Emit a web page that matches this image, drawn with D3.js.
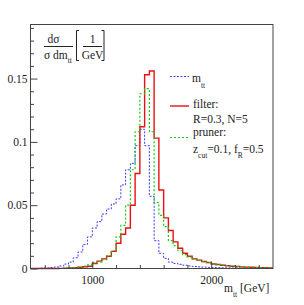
<!DOCTYPE html>
<html>
<head>
<meta charset="utf-8">
<script src="https://cdn.jsdelivr.net/npm/d3@7.9.0/dist/d3.min.js"></script>
<style>
  body { margin: 0; background: #fff; }
  svg { display: block; font-family: "Liberation Serif", "DejaVu Serif", serif; }
</style>
</head>
<body>
<svg id="chart"></svg>
<script>
// bin edges of the histograms (GeV), 40 GeV wide
const binEdges = d3.range(480, 2521, 40);

// normalised distributions, one value per bin
const mtt = [0, 0.0001, 0.0003, 0.0005, 0.0008, 0.0012, 0.002, 0.0035, 0.005, 0.0085,
  0.013, 0.019, 0.025, 0.032, 0.037, 0.043, 0.047, 0.051, 0.055, 0.066,
  0.078, 0.083, 0.097, 0.110, 0.097, 0.057, 0.022, 0.012, 0.008, 0.005,
  0.004, 0.0033, 0.0026, 0.002, 0.0016, 0.0013, 0.0011, 0.0009, 0.0008, 0.0007,
  0.0006, 0.0005, 0.0004, 0.0004, 0.0003, 0.0003, 0.0002, 0.0002, 0.0002, 0.0001, 0.0001];

const filter = [0, 0, 0, 0, 0, 0, 0.0001, 0.0002, 0.0004, 0.0007,
  0.001, 0.0014, 0.0018, 0.004, 0.0058, 0.0076, 0.0097, 0.0135, 0.020, 0.027,
  0.032, 0.050, 0.075, 0.112, 0.153, 0.156, 0.103, 0.062, 0.040, 0.030,
  0.021, 0.016, 0.012, 0.0097, 0.0076, 0.0066, 0.0055, 0.0047, 0.0036, 0.0032,
  0.0026, 0.0022, 0.0018, 0.0016, 0.0013, 0.0011, 0.001, 0.0008, 0.0007, 0.0006, 0.0005];

const pruner = [0, 0, 0, 0, 0, 0, 0.0001, 0.0003, 0.0005, 0.0008,
  0.0012, 0.0018, 0.0028, 0.0045, 0.0052, 0.007, 0.010, 0.014, 0.025, 0.034,
  0.050, 0.078, 0.108, 0.138, 0.142, 0.108, 0.052, 0.042, 0.033, 0.022,
  0.018, 0.014, 0.011, 0.009, 0.0075, 0.0065, 0.0055, 0.0046, 0.0037, 0.0031,
  0.0026, 0.0022, 0.0019, 0.0016, 0.0013, 0.0011, 0.001, 0.0008, 0.0007, 0.0006, 0.0005];

const xTicks = [1000, 2000];
const yTicks = [0, 0.05, 0.1, 0.15];

const width = 304;
const height = 305;
const marginTop = 24.5;
const marginRight = 31;
const marginBottom = 36.5;
const marginLeft = 30.5;

const x = d3.scaleLinear()
  .domain([480, 2520])
  .range([marginLeft, width - marginRight]);

const y = d3.scaleLinear()
  .domain([0, 0.1927])
  .range([height - marginBottom, marginTop]);

const svg = d3.select('#chart')
  .attr('width', width)
  .attr('height', height)
  .attr('viewBox', [0, 0, width, height]);

svg.append('rect').attr('width', width).attr('height', height).attr('fill', '#fff');

const frameColor = '#444';
const textColor = '#222';

// histograms as step outlines
function stepLine(values) {
  const pts = values.map((v, i) => [binEdges[i], v]);
  pts.push([binEdges[values.length], values[values.length - 1]]);
  return d3.line()
    .x(d => x(d[0]))
    .y(d => y(d[1]))
    .curve(d3.curveStepAfter)(pts);
}

const plot = svg.append('g');

plot.append('path')
  .attr('d', stepLine(mtt))
  .attr('fill', 'none')
  .attr('stroke', '#3b3bff')
  .attr('stroke-width', 1)
  .attr('stroke-dasharray', '2,1.5');

plot.append('path')
  .attr('d', stepLine(filter))
  .attr('fill', 'none')
  .attr('stroke', '#e81010')
  .attr('stroke-width', 1.4);

plot.append('path')
  .attr('d', stepLine(pruner))
  .attr('fill', 'none')
  .attr('stroke', '#11cc11')
  .attr('stroke-width', 1.2)
  .attr('stroke-dasharray', '2,2');

// frame
svg.append('rect')
  .attr('x', marginLeft)
  .attr('y', marginTop)
  .attr('width', width - marginRight - marginLeft)
  .attr('height', height - marginBottom - marginTop)
  .attr('fill', 'none')
  .attr('stroke', frameColor)
  .attr('stroke-width', 1);

// axes, ticks pointing inward
const xAxis = svg.append('g')
  .attr('transform', `translate(0,${height - marginBottom})`)
  .call(d3.axisBottom(x).tickValues(xTicks).tickSize(-7).tickPadding(5).tickFormat(d3.format('d')));
svg.append('g')
  .attr('transform', `translate(0,${height - marginBottom})`)
  .call(d3.axisBottom(x).tickValues(d3.range(600, 2500, 200).filter(v => !xTicks.includes(v))).tickSize(-3.5).tickFormat(''));

const yAxis = svg.append('g')
  .attr('transform', `translate(${marginLeft},0)`)
  .call(d3.axisLeft(y).tickValues(yTicks).tickSize(-7).tickPadding(3).tickFormat(d => String(d)));
svg.append('g')
  .attr('transform', `translate(${marginLeft},0)`)
  .call(d3.axisLeft(y).tickValues(d3.range(1, 20).map(v => v / 100).filter(v => Math.round(v * 100) % 5 !== 0)).tickSize(-3.5).tickFormat(''));

svg.selectAll('.domain').remove();
svg.selectAll('.tick line').attr('stroke', frameColor);
svg.selectAll('.tick text')
  .attr('fill', textColor)
  .attr('font-family', '"Liberation Serif", serif')
  .attr('font-size', 11.5);
xAxis.selectAll('.tick text').attr('dy', '0.9em');

// x axis title
const xTitle = svg.append('text')
  .attr('x', 224)
  .attr('y', 292)
  .attr('fill', textColor)
  .attr('font-size', 11.5);
xTitle.append('tspan').text('m');
xTitle.append('tspan').attr('font-size', 7.5).attr('dy', 5).text('tt');
xTitle.append('tspan').attr('dy', -5).text(' [GeV]');

// y axis title: dσ / (σ dm_tt) [1/GeV]
const yTitle = svg.append('g').attr('fill', textColor).attr('font-size', 11.5);
yTitle.append('text').attr('x', 53.5).attr('y', 43).attr('text-anchor', 'middle').text('dσ');
yTitle.append('line').attr('x1', 44).attr('x2', 73).attr('y1', 46.5).attr('y2', 46.5)
  .attr('stroke', textColor).attr('stroke-width', 1);
const den = yTitle.append('text').attr('x', 44).attr('y', 59);
den.append('tspan').text('σ dm');
den.append('tspan').attr('font-size', 7.5).attr('dy', 4).text('tt');
yTitle.append('path').attr('d', 'M79,30.5H76.5V60.5H79').attr('fill', 'none').attr('stroke', textColor);
yTitle.append('path').attr('d', 'M101.5,30.5H104V60.5H101.5').attr('fill', 'none').attr('stroke', textColor);
yTitle.append('text').attr('x', 92.5).attr('y', 43).attr('text-anchor', 'middle').text('1');
yTitle.append('line').attr('x1', 83).attr('x2', 102).attr('y1', 46.5).attr('y2', 46.5)
  .attr('stroke', textColor).attr('stroke-width', 1);
yTitle.append('text').attr('x', 92.5).attr('y', 59).attr('text-anchor', 'middle').text('GeV');

// legend
const legend = svg.append('g').attr('fill', textColor).attr('font-size', 11.5);
legend.append('line').attr('x1', 170).attr('x2', 189).attr('y1', 76.5).attr('y2', 76.5)
  .attr('stroke', '#3b3bff').attr('stroke-dasharray', '2,1.5');
const l1 = legend.append('text').attr('x', 192).attr('y', 82);
l1.append('tspan').text('m');
l1.append('tspan').attr('font-size', 7.5).attr('dy', 6).text('tt');

legend.append('line').attr('x1', 170).attr('x2', 189).attr('y1', 106).attr('y2', 106)
  .attr('stroke', '#e81010').attr('stroke-width', 1.4);
legend.append('text').attr('x', 193).attr('y', 108).text('filter:');
legend.append('text').attr('x', 193).attr('y', 122.5).text('R=0.3, N=5');

legend.append('line').attr('x1', 170).attr('x2', 189).attr('y1', 137.5).attr('y2', 137.5)
  .attr('stroke', '#11cc11').attr('stroke-width', 1.2).attr('stroke-dasharray', '2,2');
legend.append('text').attr('x', 193).attr('y', 136).text('pruner:');
const l4 = legend.append('text').attr('x', 193).attr('y', 153);
l4.append('tspan').text('z');
l4.append('tspan').attr('font-size', 7.5).attr('dy', 5).text('cut');
l4.append('tspan').attr('dy', -5).text('=0.1, f');
l4.append('tspan').attr('font-size', 7.5).attr('dy', 5).text('R');
l4.append('tspan').attr('dy', -5).text('=0.5');
</script>
</body>
</html>
